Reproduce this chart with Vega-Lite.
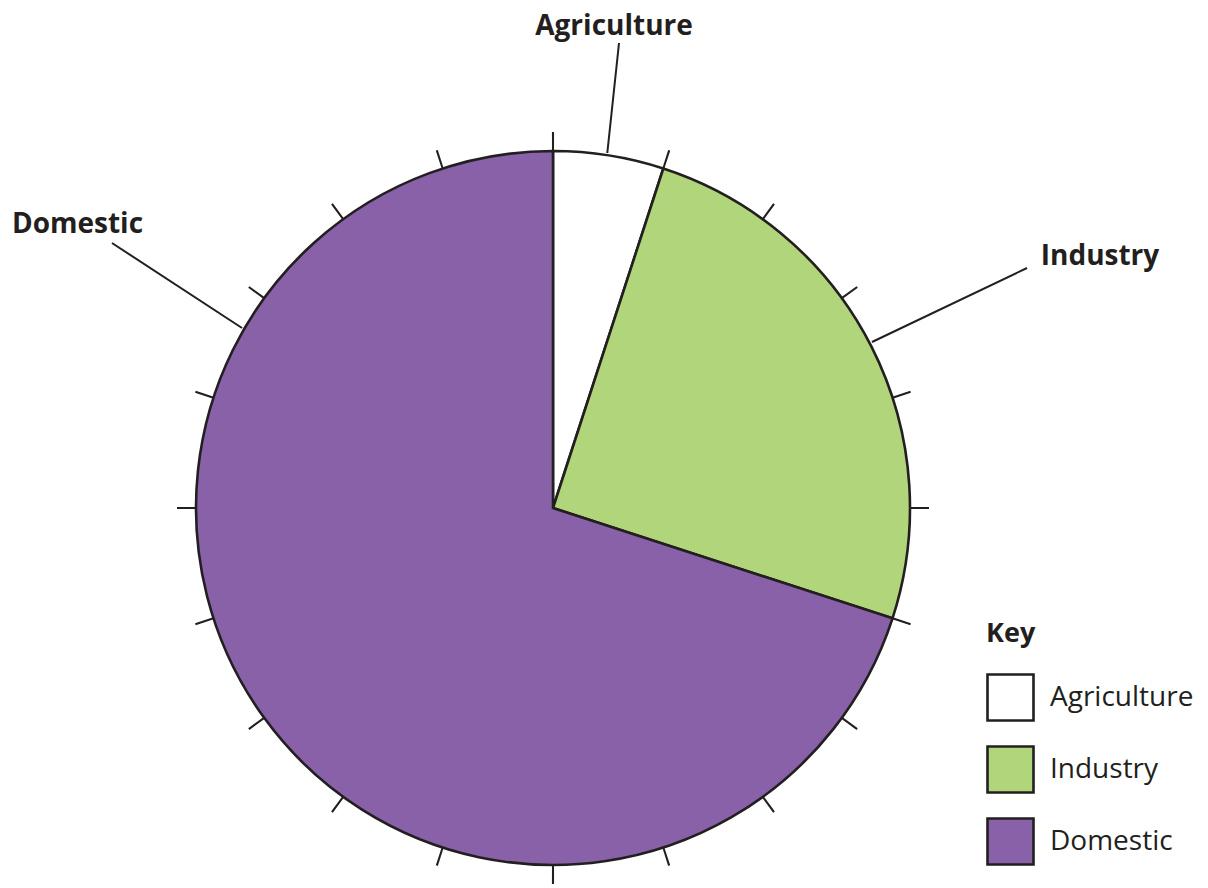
{
  "$schema": "https://vega.github.io/schema/vega-lite/v6.json",
  "width": 1208,
  "height": 888,
  "autosize": {"type": "fit", "contains": "padding"},
  "padding": 0,
  "background": "#ffffff",
  "config": {"view": {"stroke": null}, "font": "Open Sans"},
  "datasets": {
    "slices": [
      {"sector": "Agriculture", "share": 5, "order": 1},
      {"sector": "Industry", "share": 25, "order": 2},
      {"sector": "Domestic", "share": 70, "order": 3}
    ],
    "ticks": [
      {"a": 4.955, "b": 5.045}, {"a": 9.955, "b": 10.045}, {"a": 14.955, "b": 15.045}, {"a": 19.955, "b": 20.045},
      {"a": 24.955, "b": 25.045}, {"a": 29.955, "b": 30.045}, {"a": 34.955, "b": 35.045}, {"a": 39.955, "b": 40.045},
      {"a": 44.955, "b": 45.045}, {"a": 49.955, "b": 50.045}, {"a": 54.955, "b": 55.045}, {"a": 59.955, "b": 60.045},
      {"a": 64.955, "b": 65.045}, {"a": 69.955, "b": 70.045}, {"a": 74.955, "b": 75.045}, {"a": 79.955, "b": 80.045},
      {"a": 84.955, "b": 85.045}, {"a": 89.955, "b": 90.045}, {"a": 94.955, "b": 95.045}, {"a": 99.955, "b": 100.045}
    ],
    "labels": [
      {"label": "Agriculture", "lx": 0.1709, "ly": 1.3249},
      {"label": "Industry", "lx": 1.5322, "ly": 0.6807},
      {"label": "Domestic", "lx": -1.3319, "ly": 0.7703}
    ],
    "leaders": [
      {"x1": 0.1521, "y1": 0.9944, "x2": 0.1849, "y2": 1.3025},
      {"x1": 0.8936, "y1": 0.4650, "x2": 1.3277, "y2": 0.6723},
      {"x1": -0.8711, "y1": 0.5042, "x2": -1.2353, "y2": 0.7423}
    ]
  },
  "layer": [
    {
      "data": {"name": "slices"},
      "mark": {"type": "arc", "radius": 357, "stroke": "#231f20", "strokeWidth": 2.6, "strokeJoin": "miter"},
      "encoding": {
        "x": {"datum": 0, "type": "quantitative", "scale": {"domain": [-1.549, 1.8347], "nice": false, "zero": false}, "axis": null},
        "y": {"datum": 0, "type": "quantitative", "scale": {"domain": [-1.0644, 1.423], "nice": false, "zero": false}, "axis": null},
        "theta": {"field": "share", "type": "quantitative", "stack": true, "scale": {"domain": [0, 100]}},
        "order": {"field": "order", "type": "quantitative", "sort": "ascending"},
        "color": {
          "field": "sector",
          "type": "nominal",
          "scale": {"domain": ["Agriculture", "Industry", "Domestic"], "range": ["#ffffff", "#b1d57a", "#8961a9"]},
          "legend": {
            "orient": "none",
            "legendX": 986,
            "legendY": 621,
            "title": "Key",
            "titleFont": "Open Sans",
            "titleFontSize": 27,
            "titleFontWeight": "bold",
            "titleColor": "#231f20",
            "titlePadding": 25,
            "symbolType": "square",
            "symbolSize": 2116,
            "symbolStrokeColor": "#231f20",
            "symbolStrokeWidth": 2.6,
            "symbolOpacity": 1,
            "labelFont": "Open Sans",
            "labelFontSize": 28,
            "labelColor": "#231f20",
            "labelOffset": 15,
            "labelLimit": 300,
            "rowPadding": 15,
            "padding": 0
          }
        }
      }
    },
    {
      "data": {"name": "ticks"},
      "mark": {"type": "arc", "radius": 376, "radius2": 357, "fill": "#231f20"},
      "encoding": {
        "x": {"datum": 0, "type": "quantitative", "scale": {"domain": [-1.549, 1.8347], "nice": false, "zero": false}, "axis": null},
        "y": {"datum": 0, "type": "quantitative", "scale": {"domain": [-1.0644, 1.423], "nice": false, "zero": false}, "axis": null},
        "theta": {"field": "a", "type": "quantitative", "scale": {"domain": [0, 100]}},
        "theta2": {"field": "b"}
      }
    },
    {
      "data": {"name": "leaders"},
      "mark": {"type": "rule", "stroke": "#231f20", "strokeWidth": 2},
      "encoding": {
        "x": {"field": "x1", "type": "quantitative", "scale": {"domain": [-1.549, 1.8347], "nice": false, "zero": false}, "axis": null},
        "y": {"field": "y1", "type": "quantitative", "scale": {"domain": [-1.0644, 1.423], "nice": false, "zero": false}, "axis": null},
        "x2": {"field": "x2"},
        "y2": {"field": "y2"}
      }
    },
    {
      "data": {"name": "labels"},
      "mark": {"type": "text", "font": "Open Sans", "fontSize": 28, "fontWeight": "bold", "fill": "#231f20", "align": "center", "baseline": "alphabetic"},
      "encoding": {
        "x": {"field": "lx", "type": "quantitative", "scale": {"domain": [-1.549, 1.8347], "nice": false, "zero": false}, "axis": null},
        "y": {"field": "ly", "type": "quantitative", "scale": {"domain": [-1.0644, 1.423], "nice": false, "zero": false}, "axis": null},
        "text": {"field": "label"}
      }
    }
  ],
  "resolve": {"scale": {"theta": "independent"}}
}
